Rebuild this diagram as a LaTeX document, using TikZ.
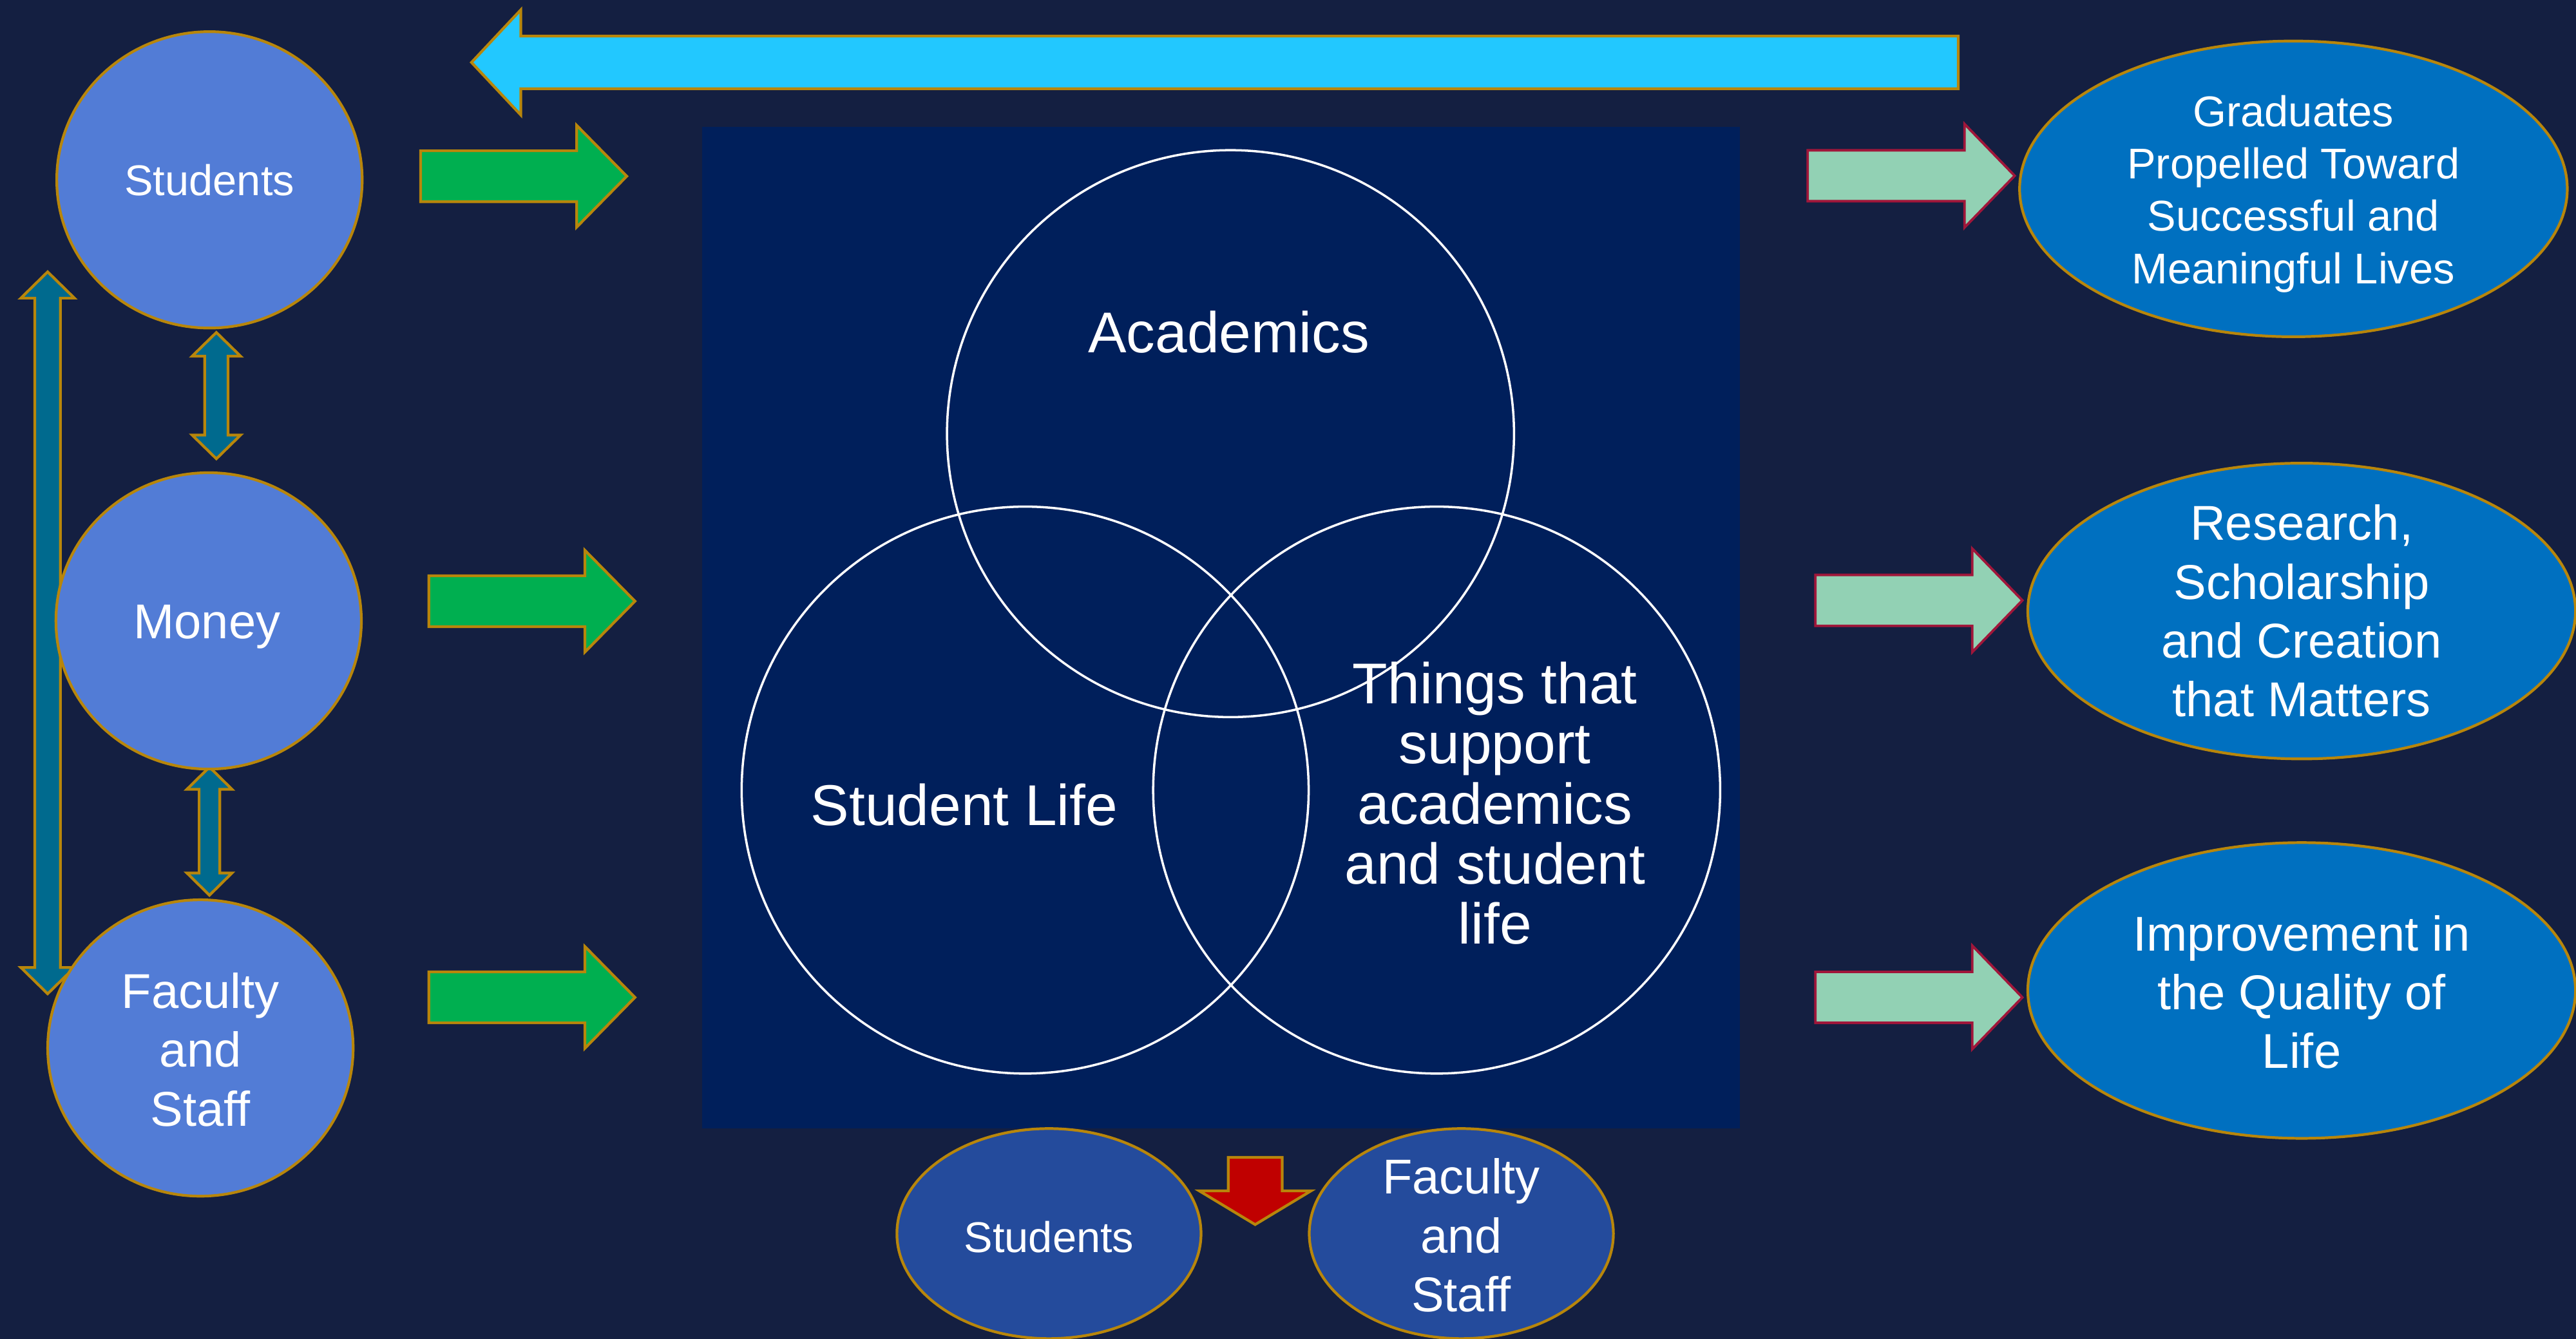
\documentclass[tikz,border=0pt]{standalone}
\usepackage{fontspec}
\setmainfont{Liberation Sans}
\usetikzlibrary{shapes.geometric}

\definecolor{slide_bg}{HTML}{141F41}
\definecolor{venn_bg}{HTML}{001F5B}
\definecolor{gold_line}{HTML}{B8860B}
\definecolor{source_fill}{HTML}{527CD6}
\definecolor{outcome_fill}{HTML}{0070C0}
\definecolor{bottom_fill}{HTML}{244B9C}
\definecolor{arrow_green}{HTML}{00AF50}
\definecolor{arrow_cyan}{HTML}{22C8FF}
\definecolor{arrow_teal}{HTML}{006A8E}
\definecolor{arrow_mint}{HTML}{92D1B4}
\definecolor{mint_line}{HTML}{A0163A}
\definecolor{arrow_red}{HTML}{C00000}

\tikzstyle{source_circle}=[ellipse,
                           minimum width=4.74cm,
                           minimum height=4.6cm,
                           inner sep=0pt,
                           fill=source_fill,
                           draw=gold_line,
                           line width=1.2pt, ]
\tikzstyle{outcome_oval}=[ellipse,
                          minimum width=8.5cm,
                          minimum height=4.59cm,
                          inner sep=0pt,
                          fill=outcome_fill,
                          draw=gold_line,
                          line width=1.2pt, ]
\tikzstyle{bottom_oval}=[ellipse,
                         minimum width=4.72cm,
                         minimum height=3.26cm,
                         inner sep=0pt,
                         fill=bottom_fill,
                         draw=gold_line,
                         line width=1.2pt, ]
\tikzstyle{venn_circle}=[circle,
                         minimum size=8.8cm,
                         inner sep=0pt,
                         draw=white,
                         line width=1pt, ]
\tikzstyle{block_arrow}=[draw=gold_line, line width=1.2pt, line join=miter]
\tikzstyle{text_small}=[text=white, align=center, inner sep=0pt,
                        font=\fontsize{19}{23.1}\selectfont]
\tikzstyle{text_mid}=[text=white, align=center, inner sep=0pt,
                      font=\fontsize{21.6}{26}\selectfont]
\tikzstyle{text_big}=[text=white, align=center, inner sep=0pt,
                      font=\fontsize{25.4}{26.5}\selectfont]

\begin{document}
\begin{tikzpicture}[x=0.0255cm, y=-0.0255cm]
  \useasboundingbox (0, 0) rectangle (1568, 815);
  \fill[slide_bg] (0, 0) rectangle (1568, 815);

  % Venn diagram
  % -------------------------------------------------------------
  \fill[venn_bg] (427.5, 77.4) rectangle (1059, 687);
  \node at (749, 264) (academics) [venn_circle] {};
  \node at (624, 481) (student_life) [venn_circle] {};
  \node at (874.5, 481) (support) [venn_circle] {};
  \node at (748, 202) (academics_txt) [text_big] {Academics};
  \node at (587, 490) (student_life_txt) [text_big] {Student Life};
  \node at (910, 489) (support_txt) [text_big] {Things that\\support\\academics\\and student\\life};

  % Feedback arrow
  % -------------------------------------------------------------
  \draw[block_arrow, fill=arrow_cyan] (287, 38) -- (317, 6) -- (317, 22) -- (1192, 22)
    -- (1192, 54) -- (317, 54) -- (317, 70) -- cycle;

  % Inputs
  % -------------------------------------------------------------
  \foreach \x/\y in {256/107.3, 261/366, 261/607.2} {
      \draw[block_arrow, fill=arrow_green] (\x, \y-15.5) -- (\x+95, \y-15.5) -- (\x+95, \y-31)
        -- (\x+125.5, \y) -- (\x+95, \y+31) -- (\x+95, \y+15.5) -- (\x, \y+15.5) -- cycle;
    }
  \foreach \cx/\yt/\yb/\hl/\sw/\hw in {29/165.5/605/16/7.8/16.3,
                                         131.7/202.4/279.3/14.4/7.1/14.7,
                                         127.5/467/545/13.5/6.3/13.7} {
      \draw[block_arrow, fill=arrow_teal] (\cx, \yt) -- (\cx+\hw, \yt+\hl) -- (\cx+\sw, \yt+\hl)
        -- (\cx+\sw, \yb-\hl) -- (\cx+\hw, \yb-\hl) -- (\cx, \yb) -- (\cx-\hw, \yb-\hl)
        -- (\cx-\sw, \yb-\hl) -- (\cx-\sw, \yt+\hl) -- (\cx-\hw, \yt+\hl) -- cycle;
    }
  \node at (127.5, 109.5) (students) [source_circle] {};
  \node at (127, 378) (money) [source_circle] {};
  \node at (122, 638) (faculty) [source_circle] {};
  \node at (students) (students_txt) [text_small] {Students};
  \node at (126, 381.5) (money_txt) [text_mid] {Money};
  \node at (122, 639) (faculty_txt) [text_mid] {Faculty\\and\\Staff};

  % Outcomes
  % -------------------------------------------------------------
  \foreach \x/\y in {1100.3/107, 1105/365.5, 1105/607.2} {
      \draw[block_arrow, draw=mint_line, line width=1.1pt, fill=arrow_mint] (\x, \y-15.5)
        -- (\x+95.5, \y-15.5) -- (\x+95.5, \y-31.5) -- (\x+126, \y) -- (\x+95.5, \y+31.5)
        -- (\x+95.5, \y+15.5) -- (\x, \y+15.5) -- cycle;
    }
  \node at (1396, 115) (graduates) [outcome_oval] {};
  \node at (1401, 372) (research) [outcome_oval] {};
  \node at (1401, 603) (quality) [outcome_oval] {};
  \node at (1396, 118) (graduates_txt) [text_small] {Graduates\\Propelled Toward\\Successful and\\Meaningful Lives};
  \node at (1401, 372) (research_txt) [text_mid] {Research,\\Scholarship\\and Creation\\that Matters};
  \node at (1401, 604) (quality_txt) [text_mid] {Improvement in\\the Quality of\\Life};

  % Outflow
  % -------------------------------------------------------------
  \draw[block_arrow, fill=arrow_red] (747.6, 704.6) -- (780.5, 704.6) -- (780.5, 725)
    -- (798, 725) -- (764, 745.5) -- (730, 725) -- (747.6, 725) -- cycle;
  \node at (638.5, 751) (students_out) [bottom_oval] {};
  \node at (889.5, 751) (faculty_out) [bottom_oval] {};
  \node at (638.5, 753) (students_out_txt) [text_small] {Students};
  \node at (889.5, 752) (faculty_out_txt) [text_mid] {Faculty\\and\\Staff};
\end{tikzpicture}
\end{document}
